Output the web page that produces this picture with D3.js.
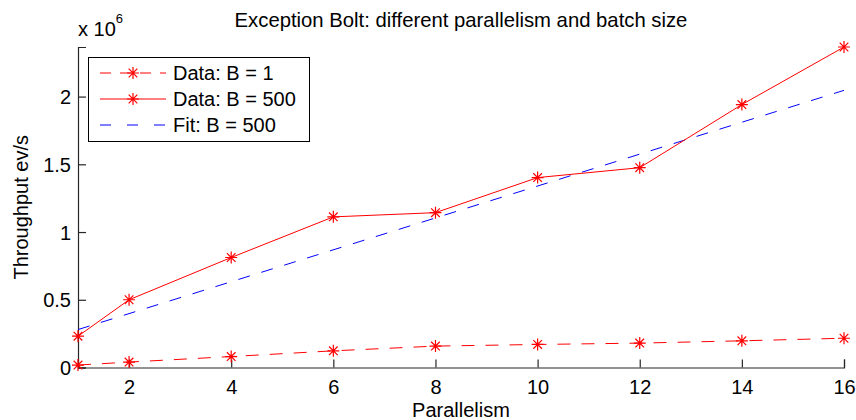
<!DOCTYPE html>
<html>
<head>
<meta charset="utf-8">
<script src="https://cdn.jsdelivr.net/npm/d3@7/dist/d3.min.js"></script>
<style>
  html, body { margin: 0; padding: 0; background: #fff; }
  svg { display: block; font-family: "Liberation Sans", Arial, Helvetica, sans-serif; }
</style>
</head>
<body>
<svg id="chart" width="856" height="420"></svg>
<script>
// Parallelism levels tested
const parallelism = [1, 2, 4, 6, 8, 10, 12, 14, 16];
// Measured throughput (ev/s, in units of 1e6)
const throughputB1 = [0.018, 0.040, 0.081, 0.123, 0.158, 0.170, 0.180, 0.197, 0.216];
const throughputB500 = [0.231, 0.500, 0.812, 1.112, 1.143, 1.402, 1.475, 1.941, 2.366];
// Linear fit for B = 500, evaluated at the ends of the range
const fitX = [1, 16];
const fitB500 = [0.280, 2.046];
const xTicks = [2, 4, 6, 8, 10, 12, 14, 16];
const yTicks = [0, 0.5, 1, 1.5, 2];
const legendLabels = ["Data: B = 1", "Data: B = 500", "Fit: B = 500"];

const svg = d3.select("#chart");
const m = { left: 78, right: 844, top: 47, bottom: 367.5 };

const x = d3.scaleLinear().domain([1, 16]).range([m.left, m.right]);
const yMax = d3.max([...throughputB1, ...throughputB500, ...fitB500]);
const y = d3.scaleLinear().domain([0, yMax]).range([m.bottom, m.top]);

const RED = "#ff0000", BLUE = "#0000ff";
const FS = 20;

// Title
svg.append("text")
  .attr("x", (m.left + m.right) / 2).attr("y", 27)
  .attr("text-anchor", "middle").attr("font-size", 20.3).attr("fill", "#000")
  .text("Exception Bolt: different parallelism and batch size");

// Exponent label
const expo = svg.append("text").attr("x", m.left).attr("y", 36).attr("font-size", FS).attr("fill", "#000");
expo.append("tspan").text("x 10");
expo.append("tspan").attr("dy", -13).attr("font-size", 13).text("6");

// Axes (inward ticks)
const xAxis = d3.axisBottom(x).tickValues(xTicks).tickSize(-8).tickPadding(12).tickFormat(d3.format("d"));
const yAxis = d3.axisLeft(y).tickValues(yTicks).tickSize(-8).tickPadding(7).tickFormat(d => d === 0 ? "0" : String(d));

const gx = svg.append("g").attr("transform", `translate(0,${m.bottom})`).call(xAxis);
const gy = svg.append("g").attr("transform", `translate(${m.left},0)`).call(yAxis);
[gx, gy].forEach(g => {
  g.select(".domain").attr("stroke", "#262626").attr("stroke-width", 1.2);
  g.selectAll(".tick line").attr("stroke", "#262626").attr("stroke-width", 1.2);
  g.selectAll(".tick text").attr("font-size", FS).attr("fill", "#000")
    .attr("font-family", "\"Liberation Sans\", Arial, sans-serif");
});
gx.selectAll(".tick text").attr("dy", "0.72em");
gy.selectAll(".tick text").attr("dy", "0.36em");

// Axis labels
svg.append("text")
  .attr("x", (m.left + m.right) / 2).attr("y", 417)
  .attr("text-anchor", "middle").attr("font-size", FS).attr("fill", "#000")
  .text("Parallelism");
svg.append("text")
  .attr("transform", `translate(28,${(m.top + m.bottom) / 2}) rotate(-90)`)
  .attr("text-anchor", "middle").attr("font-size", FS).attr("fill", "#000")
  .text("Throughput ev/s");

// Asterisk marker path (plus + cross), centred at origin
function asterisk(r) {
  const d = r * 0.72;
  return `M${-r},0L${r},0M0,${-r}L0,${r}M${-d},${-d}L${d},${d}M${-d},${d}L${d},${-d}`;
}

const line = d3.line().x(d => x(d[0])).y(d => y(d[1]));
const plot = svg.append("g");

// Fit line (blue dashed)
plot.append("path")
  .datum(d3.zip(fitX, fitB500))
  .attr("d", line).attr("fill", "none")
  .attr("stroke", BLUE).attr("stroke-width", 1).attr("stroke-dasharray", "12,12");

// B = 1 series (red dashed with asterisks)
plot.append("path")
  .datum(d3.zip(parallelism, throughputB1))
  .attr("d", line).attr("fill", "none")
  .attr("stroke", RED).attr("stroke-width", 1).attr("stroke-dasharray", "13,11");

// B = 500 series (red solid with asterisks)
plot.append("path")
  .datum(d3.zip(parallelism, throughputB500))
  .attr("d", line).attr("fill", "none")
  .attr("stroke", RED).attr("stroke-width", 1);

[throughputB1, throughputB500].forEach(series => {
  plot.selectAll(null)
    .data(d3.zip(parallelism, series))
    .join("path")
    .attr("transform", d => `translate(${x(d[0])},${y(d[1])})`)
    .attr("d", asterisk(6))
    .attr("stroke", RED).attr("stroke-width", 1.2).attr("fill", "none");
});

// Legend
const lg = svg.append("g");
lg.append("rect")
  .attr("x", 88.5).attr("y", 57.5).attr("width", 221).attr("height", 84)
  .attr("fill", "#fff").attr("stroke", "#000").attr("stroke-width", 1);
const legendStyles = [
  { color: RED, dash: "11,9", marker: true },
  { color: RED, dash: null, marker: true },
  { color: BLUE, dash: "11,16", marker: false }
];
legendLabels.forEach((label, i) => {
  const cy = 73 + i * 26;
  const st = legendStyles[i];
  lg.append("line")
    .attr("x1", 100).attr("x2", 166).attr("y1", cy).attr("y2", cy)
    .attr("stroke", st.color).attr("stroke-width", 1)
    .attr("stroke-dasharray", st.dash);
  if (st.marker) {
    lg.append("path").attr("transform", `translate(133,${cy})`)
      .attr("d", asterisk(6)).attr("stroke", st.color).attr("stroke-width", 1.2).attr("fill", "none");
  }
  lg.append("text")
    .attr("x", 173).attr("y", cy).attr("dy", "0.36em")
    .attr("font-size", FS).attr("fill", "#000")
    .text(label);
});
</script>
</body>
</html>
